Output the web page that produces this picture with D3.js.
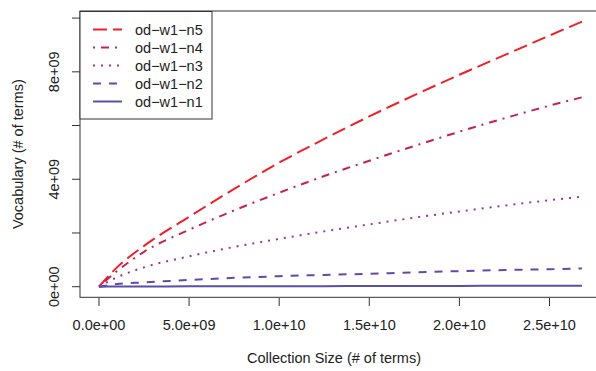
<!DOCTYPE html>
<html>
<head>
<meta charset="utf-8">
<script src="https://cdn.jsdelivr.net/npm/d3@7"></script>
<style>
  html, body { margin: 0; padding: 0; background: #fff; }
  svg { display: block; font-family: "Liberation Sans", Arial, Helvetica, sans-serif; }
</style>
</head>
<body>
<svg id="chart" width="596" height="371"></svg>
<script>
// ---- data (values in number of terms) ----
const collectionSize = [0, 1e9, 2.5e9, 5e9, 7.5e9, 10e9, 12.5e9, 15e9, 17.5e9, 20e9, 22.5e9, 25e9, 26.8e9];
const seriesNames = ["od\u2212w1\u2212n5", "od\u2212w1\u2212n4", "od\u2212w1\u2212n3", "od\u2212w1\u2212n2", "od\u2212w1\u2212n1"];
const n5 = [0, 0.72e9, 1.52e9, 2.60e9, 3.64e9, 4.62e9, 5.50e9, 6.34e9, 7.13e9, 7.89e9, 8.62e9, 9.35e9, 9.87e9];
const n4 = [0, 0.58e9, 1.30e9, 2.12e9, 2.84e9, 3.50e9, 4.12e9, 4.69e9, 5.24e9, 5.77e9, 6.27e9, 6.74e9, 7.05e9];
const n3 = [0, 0.35e9, 0.72e9, 1.13e9, 1.48e9, 1.78e9, 2.06e9, 2.32e9, 2.57e9, 2.80e9, 3.02e9, 3.22e9, 3.35e9];
const n2 = [0, 0.10e9, 0.16e9, 0.25e9, 0.33e9, 0.39e9, 0.44e9, 0.48e9, 0.53e9, 0.58e9, 0.62e9, 0.65e9, 0.68e9];
const n1 = [0, 0.005e9, 0.008e9, 0.012e9, 0.015e9, 0.018e9, 0.021e9, 0.024e9, 0.027e9, 0.030e9, 0.033e9, 0.036e9, 0.038e9];
const xTicks = [0, 5e9, 10e9, 15e9, 20e9, 25e9];
const xTickLabels = ["0.0e+00", "5.0e+09", "1.0e+10", "1.5e+10", "2.0e+10", "2.5e+10"];
const yTicks = [0, 2e9, 4e9, 6e9, 8e9, 10e9];
const yTickLabels = ["0e+00", "", "4e+09", "", "8e+09", ""];
const xTitle = "Collection Size (# of terms)";
const yTitle = "Vocabulary (# of terms)";

// ---- styles ----
const seriesValues = [n5, n4, n3, n2, n1];
const colors = ["#EE2029", "#C22452", "#933A96", "#6647A8", "#5650A6"];
const dashes = ["14 6", "2 6 8 6", "2 6", "8 8", null];

const svg = d3.select("#chart");
const pLeft = 80, pTop = 11, pBottom = 297.3;
const xPxPer1e9 = 18.02;
const xDomain = [-1.054e9, 28.0e9];
const pRight = pLeft + (xDomain[1] - xDomain[0]) / 1e9 * xPxPer1e9;

const yMax = d3.max(seriesValues.flat());
const x = d3.scaleLinear().domain(xDomain).range([pLeft, pRight]);
const y = d3.scaleLinear().domain([-0.04 * yMax, 1.04 * yMax]).range([pBottom, pTop]);

const ink = "#333";
const fs = "14.5px";

// lines
const line = d3.line().x(d => x(d[0])).y(d => y(d[1])).curve(d3.curveMonotoneX);
seriesValues.forEach((vals, i) => {
  const pts = collectionSize.map((c, j) => [c, vals[j]]);
  svg.append("path")
    .attr("d", line(pts))
    .attr("fill", "none")
    .attr("stroke", colors[i])
    .attr("stroke-width", 2)
    .attr("stroke-dasharray", dashes[i])
    .attr("stroke-linecap", "butt");
});

// plot box
svg.append("rect")
  .attr("x", pLeft).attr("y", pTop)
  .attr("width", pRight - pLeft).attr("height", pBottom - pTop)
  .attr("fill", "none").attr("stroke", ink).attr("stroke-width", 1);

// x axis (R style)
const xAxisY = 298;
const xa = svg.append("g");
xTicks.forEach((t, i) => {
  xa.append("line")
    .attr("x1", x(t)).attr("x2", x(t))
    .attr("y1", xAxisY).attr("y2", xAxisY + 8)
    .attr("stroke", ink).attr("stroke-width", 1);
  xa.append("text")
    .attr("x", x(t)).attr("y", 330)
    .attr("text-anchor", "middle")
    .attr("font-size", fs).attr("fill", "#222")
    .text(xTickLabels[i]);
});

// y axis
const yAxisX = 80;
const ya = svg.append("g");
yTicks.forEach((t, i) => {
  ya.append("line")
    .attr("x1", yAxisX - 8).attr("x2", yAxisX)
    .attr("y1", y(t)).attr("y2", y(t))
    .attr("stroke", ink).attr("stroke-width", 1);
  if (yTickLabels[i]) {
    ya.append("text")
      .attr("transform", `translate(59,${y(t)}) rotate(-90)`)
      .attr("text-anchor", "middle")
      .attr("font-size", fs).attr("fill", "#222")
      .text(yTickLabels[i]);
  }
});

// axis titles
svg.append("text")
  .attr("x", 334).attr("y", 363)
  .attr("text-anchor", "middle")
  .attr("font-size", fs).attr("fill", "#222")
  .text(xTitle);
svg.append("text")
  .attr("transform", `translate(23,${(pTop + pBottom) / 2}) rotate(-90)`)
  .attr("text-anchor", "middle")
  .attr("font-size", fs).attr("fill", "#222")
  .text(yTitle);

// legend
const lg = svg.append("g");
lg.append("rect")
  .attr("x", 80).attr("y", 11.5).attr("width", 132).attr("height", 107.5)
  .attr("fill", "#fff").attr("stroke", ink).attr("stroke-width", 1);
seriesNames.forEach((name, i) => {
  const ry = 29.5 + i * 18;
  lg.append("line")
    .attr("x1", 93).attr("x2", 122)
    .attr("y1", ry).attr("y2", ry)
    .attr("stroke", colors[i]).attr("stroke-width", 2)
    .attr("stroke-dasharray", dashes[i]);
  lg.append("text")
    .attr("x", 135).attr("y", ry + 5)
    .attr("font-size", fs).attr("fill", "#222")
    .text(name);
});
</script>
</body>
</html>
